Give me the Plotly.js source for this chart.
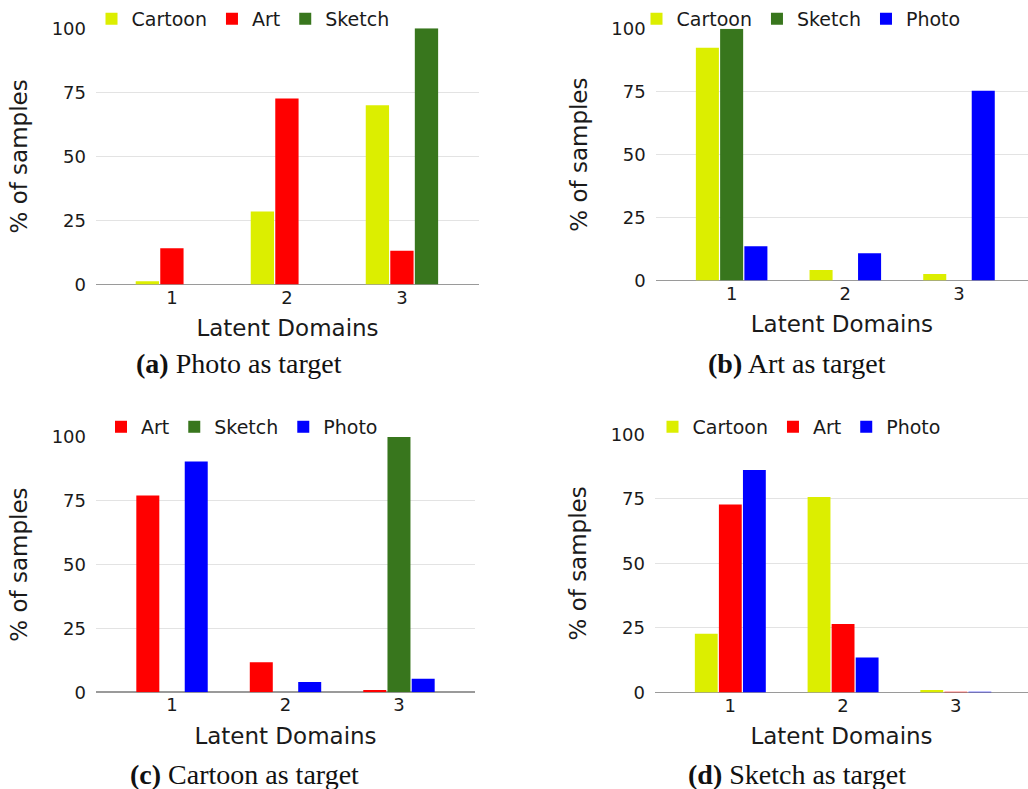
<!DOCTYPE html>
<html>
<head>
<meta charset="utf-8">
<script src="https://cdn.plot.ly/plotly-3.0.1.min.js"></script>
<style>html,body{margin:0;padding:0;background:#fff;}#chart{width:1028px;height:789px;}</style>
</head>
<body>
<div id="chart"></div>
<script>
// Latent domain indices
const domains = [1, 2, 3];
const tickVals = [0, 25, 50, 75, 100];

// (a) Photo as target
const a_cartoon = [1.3, 28.5, 70];
const a_art = [14.2, 72.6, 13.2];
const a_sketch = [0, 0, 100];

// (b) Art as target
const b_cartoon = [92.4, 4.2, 2.6];
const b_sketch = [100, 0, 0];
const b_photo = [13.6, 10.9, 75.3];

// (c) Cartoon as target
const c_art = [77, 11.7, 0.9];
const c_sketch = [0, 0, 100];
const c_photo = [90.4, 4.0, 5.3];

// (d) Sketch as target
const d_cartoon = [22.8, 75.7, 1.0];
const d_art = [72.8, 26.5, 0.3];
const d_photo = [86.1, 13.6, 0.3];

const captions = ["<b>(a)</b> Photo as target", "<b>(b)</b> Art as target",
                  "<b>(c)</b> Cartoon as target", "<b>(d)</b> Sketch as target"];

const COLORS = {Cartoon: '#dcee00', Art: '#ff0000', Sketch: '#38761d', Photo: '#0000ff'};

function bar(name, y, ax, leg) {
  return {
    type: 'bar', name: name, x: domains, y: y,
    xaxis: 'x' + ax, yaxis: 'y' + ax, legend: leg,
    marker: {color: COLORS[name], line: {color: '#ffffff', width: 0}},
    hoverinfo: 'x+y+name'
  };
}

const data = [
  bar('Cartoon', a_cartoon, '', 'legend'),
  bar('Art', a_art, '', 'legend'),
  bar('Sketch', a_sketch, '', 'legend'),
  bar('Cartoon', b_cartoon, '2', 'legend2'),
  bar('Sketch', b_sketch, '2', 'legend2'),
  bar('Photo', b_photo, '2', 'legend2'),
  bar('Art', c_art, '3', 'legend3'),
  bar('Sketch', c_sketch, '3', 'legend3'),
  bar('Photo', c_photo, '3', 'legend3'),
  bar('Cartoon', d_cartoon, '4', 'legend4'),
  bar('Art', d_art, '4', 'legend4'),
  bar('Photo', d_photo, '4', 'legend4')
];

const W = 1028, H = 789;
const sans = 'DejaVu Sans, Verdana, sans-serif';

function xax(left, right, r0, r1) {
  return {
    domain: [left / W, right / W], range: [r0, r1],
    tickvals: domains, ticktext: domains.map(String),
    showgrid: false, zeroline: false, showline: false, ticks: '',
    tickfont: {family: sans, size: 18, color: '#1a1a1a'},
    title: {text: 'Latent Domains', font: {family: sans, size: 23, color: '#1a1a1a'}, standoff: 13},
    fixedrange: true
  };
}
function yax(anchor, top, bottom) {
  return {
    domain: [1 - bottom / H, 1 - top / H], range: [0, 100],
    tickvals: tickVals, ticktext: tickVals.map(String),
    showgrid: true, gridcolor: '#e3e3e3', gridwidth: 1,
    zeroline: true, zerolinecolor: '#9a9a9a', zerolinewidth: 1.5,
    showline: false, ticks: '', ticklabelstandoff: 9,
    tickfont: {family: sans, size: 18, color: '#1a1a1a'},
    title: {text: '% of samples', font: {family: sans, size: 23, color: '#1a1a1a'}, standoff: 17},
    anchor: anchor, fixedrange: true
  };
}
function leg(cx, cy) {
  return {
    orientation: 'h', x: cx / W, y: 1 - cy / H, xanchor: 'center', yanchor: 'middle',
    bgcolor: 'rgba(0,0,0,0)', font: {family: sans, size: 19, color: '#1a1a1a'},
    itemwidth: 30, tracegroupgap: 0
  };
}
function cap(text, cx, cy) {
  return {
    text: text, x: cx / W, y: 1 - cy / H, xref: 'paper', yref: 'paper',
    xanchor: 'center', yanchor: 'middle', showarrow: false,
    font: {family: 'Liberation Serif, Times New Roman, serif', size: 28, color: '#111'}
  };
}

const layout = {
  width: W, height: H,
  margin: {l: 0, r: 0, t: 0, b: 0},
  paper_bgcolor: '#ffffff', plot_bgcolor: '#ffffff',
  barmode: 'group', bargap: 0.36, bargroupgap: 0.05,
  showlegend: true,
  xaxis: Object.assign(xax(96, 479, 0.34, 3.67), {anchor: 'y'}),
  yaxis: yax('x', 26.3, 283.3),
  xaxis2: Object.assign(xax(655.7, 1028, 0.332, 3.607), {anchor: 'y2'}),
  yaxis2: yax('x2', 26.7, 279.3),
  xaxis3: Object.assign(xax(96, 475, 0.33, 3.67), {anchor: 'y3'}),
  yaxis3: yax('x3', 436, 692),
  xaxis4: Object.assign(xax(655, 1028, 0.332, 3.64), {anchor: 'y4'}),
  yaxis4: yax('x4', 433.3, 692.3),
  legend: leg(243, 17),
  legend2: leg(801, 17),
  legend3: leg(242, 426),
  legend4: leg(799, 426),
  annotations: [
    cap(captions[0], 239, 362),
    cap(captions[1], 797, 362),
    cap(captions[2], 244, 774),
    cap(captions[3], 797, 774)
  ]
};

Plotly.newPlot('chart', data, layout, {displayModeBar: false, staticPlot: true});
</script>
</body>
</html>
